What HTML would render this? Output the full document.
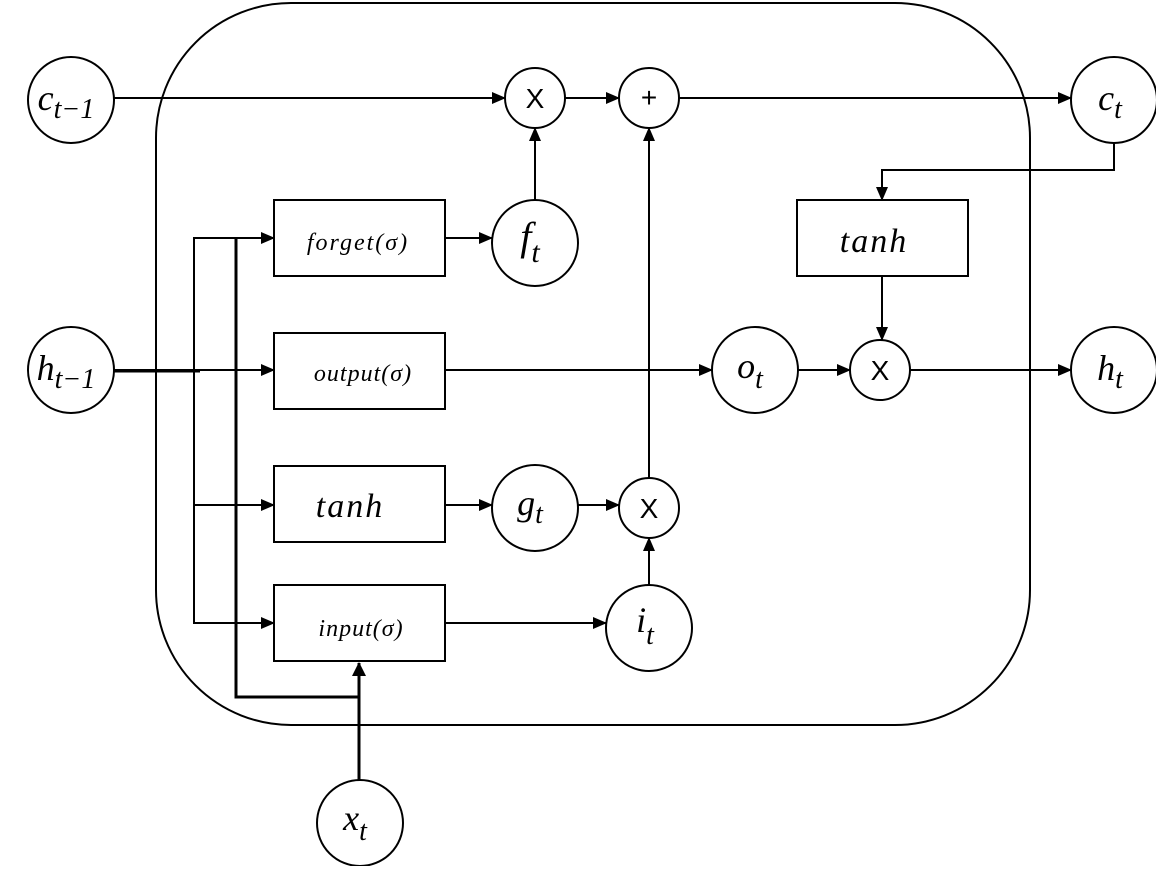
<!DOCTYPE html>
<html><head><style>
body{margin:0;background:#fff;}
svg text.m{font-family:"Liberation Serif",serif;font-style:italic;}
svg text.s{font-family:"Liberation Sans",sans-serif;font-style:normal;}
</style></head><body>
<svg width="1156" height="866" viewBox="0 0 1156 866" xmlns="http://www.w3.org/2000/svg">
<defs>
<marker id="a" markerWidth="14" markerHeight="12" refX="13" refY="6" orient="auto" markerUnits="userSpaceOnUse" viewBox="0 0 14 12">
<path d="M0,0 L14,6 L0,12 z" fill="#000"/></marker>
<marker id="b" markerWidth="14" markerHeight="14" refX="13" refY="7" orient="auto" markerUnits="userSpaceOnUse" viewBox="0 0 14 14">
<path d="M0,0 L14,7 L0,14 z" fill="#000"/></marker>
</defs>
<g fill="none" stroke="#000" stroke-width="2">
<rect x="156" y="3" width="874" height="722" rx="135" ry="135"/>
<rect x="274" y="200" width="171" height="76"/>
<rect x="274" y="333" width="171" height="76"/>
<rect x="274" y="466" width="171" height="76"/>
<rect x="274" y="585" width="171" height="76"/>
<rect x="797" y="200" width="171" height="76"/>
<circle cx="71" cy="100" r="43"/>
<circle cx="1114" cy="100" r="43"/>
<circle cx="71" cy="370" r="43"/>
<circle cx="1114" cy="370" r="43"/>
<circle cx="535" cy="98" r="30"/>
<circle cx="649" cy="98" r="30"/>
<circle cx="535" cy="243" r="43"/>
<circle cx="755" cy="370" r="43"/>
<circle cx="880" cy="370" r="30"/>
<circle cx="535" cy="508" r="43"/>
<circle cx="649" cy="508" r="30"/>
<circle cx="649" cy="628" r="43"/>
<circle cx="360" cy="823" r="43"/>
<line x1="114" y1="98" x2="505" y2="98" marker-end="url(#a)"/>
<line x1="565" y1="98" x2="619" y2="98" marker-end="url(#a)"/>
<line x1="679" y1="98" x2="1071" y2="98" marker-end="url(#a)"/>
<line x1="535" y1="200" x2="535" y2="128" marker-end="url(#a)"/>
<line x1="445" y1="238" x2="492" y2="238" marker-end="url(#a)"/>
<polyline points="1114,143 1114,170 882,170 882,200" marker-end="url(#a)"/>
<line x1="882" y1="276" x2="882" y2="340" marker-end="url(#a)"/>
<line x1="114" y1="370" x2="274" y2="370" marker-end="url(#a)"/>
<line x1="445" y1="370" x2="712" y2="370" marker-end="url(#a)"/>
<line x1="798" y1="370" x2="850" y2="370" marker-end="url(#a)"/>
<line x1="910" y1="370" x2="1071" y2="370" marker-end="url(#a)"/>
<line x1="445" y1="505" x2="492" y2="505" marker-end="url(#a)"/>
<line x1="578" y1="505" x2="619" y2="505" marker-end="url(#a)"/>
<line x1="649" y1="478" x2="649" y2="128" marker-end="url(#a)"/>
<line x1="649" y1="585" x2="649" y2="538" marker-end="url(#a)"/>
<line x1="445" y1="623" x2="606" y2="623" marker-end="url(#a)"/>
<polyline points="194,370 194,238 274,238" marker-end="url(#a)"/>
<polyline points="194,370 194,623 274,623" marker-end="url(#a)"/>
<line x1="194" y1="505" x2="274" y2="505" marker-end="url(#a)"/>
</g>
<g fill="none" stroke="#000" stroke-width="3">
<line x1="114" y1="371" x2="200" y2="371"/>
<polyline points="236,238 236,697 359,697"/>
<line x1="359" y1="780" x2="359" y2="663" marker-end="url(#b)"/>
</g>
<g font-size="36" text-anchor="middle" fill="#000">
<text class="m" x="66" y="110">c<tspan font-size="28" dy="8">t−1</tspan></text>
<text class="m" x="1110" y="110">c<tspan font-size="28" dy="8">t</tspan></text>
<text class="m" x="66" y="380">h<tspan font-size="28" dy="8">t−1</tspan></text>
<text class="m" x="1110" y="380">h<tspan font-size="28" dy="8">t</tspan></text>
<text class="m" x="530" y="250" font-size="40">f<tspan font-size="30" dy="12">t</tspan></text>
<text class="m" x="750" y="378">o<tspan font-size="28" dy="10">t</tspan></text>
<text class="m" x="530" y="515">g<tspan font-size="28" dy="8">t</tspan></text>
<text class="m" x="645" y="632">i<tspan font-size="28" dy="12">t</tspan></text>
<text class="m" x="355" y="830">x<tspan font-size="28" dy="10">t</tspan></text>
<text class="m" x="358" y="250" font-size="24" letter-spacing="2">forget(σ)</text>
<text class="m" x="363" y="381" font-size="24" letter-spacing="1">output(σ)</text>
<text class="m" x="350" y="517" font-size="34" letter-spacing="2">tanh</text>
<text class="m" x="874" y="252" font-size="34" letter-spacing="2">tanh</text>
<text class="m" x="361" y="636" font-size="24" letter-spacing="1">input(σ)</text>
</g>
<g font-size="28" text-anchor="middle" fill="#000">
<text class="s" x="535" y="108">X</text>
<text class="s" x="649" y="107">+</text>
<text class="s" x="880" y="380">X</text>
<text class="s" x="649" y="518">X</text>
</g>
</svg>
</body></html>
